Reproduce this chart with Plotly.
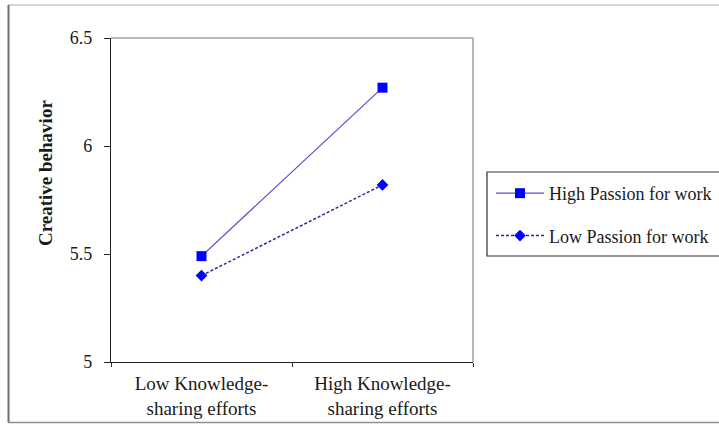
import plotly.graph_objects as go

categories = ["Low Knowledge-<br>sharing efforts", "High Knowledge-<br>sharing efforts"]
high_passion = [5.49, 6.27]
low_passion = [5.40, 5.82]
y_ticks = [5, 5.5, 6, 6.5]
y_tick_labels = ["5", "5.5", "6", "6.5"]

W, H = 719, 424
L, R, T, B = 111, 246, 38, 62
pw, ph = W - L - R, H - T - B

def px_x(x):
    return (x - L) / pw

def px_y(y):
    return (H - B - y) / ph

font_family = "Liberation Serif, Times New Roman, serif"

fig = go.Figure()
fig.add_trace(go.Scatter(
    x=categories, y=high_passion, name="High Passion for work",
    mode="lines+markers", legendgroup="a",
    line=dict(color="#5050c8", width=1.2),
    marker=dict(symbol="square", size=10, color="#0000ff"),
))
fig.add_trace(go.Scatter(
    x=categories, y=low_passion, name="Low Passion for work",
    mode="lines+markers", legendgroup="b",
    line=dict(color="#2a2a9a", width=1.5, dash="3px,2px"),
    marker=dict(symbol="diamond", size=9, color="#0000ff"),
))

shapes = [
    dict(type="line", xref="paper", yref="paper", x0=0, x1=1, y0=1, y1=1,
         line=dict(color="#a0a0a0", width=1.5)),
    dict(type="line", xref="paper", yref="paper", x0=1, x1=1, y0=0, y1=1,
         line=dict(color="#a0a0a0", width=1.5)),
    dict(type="line", xref="paper", yref="paper", x0=px_x(8), x1=px_x(730),
         y0=px_y(5), y1=px_y(5), line=dict(color="#c8c8c8", width=1.5)),
    dict(type="line", xref="paper", yref="paper", x0=px_x(8.5), x1=px_x(8.5),
         y0=px_y(5), y1=px_y(422.5), line=dict(color="#6e6e6e", width=2)),
    dict(type="line", xref="paper", yref="paper", x0=px_x(8), x1=px_x(730),
         y0=px_y(422.5), y1=px_y(422.5), line=dict(color="#909090", width=1.5)),
    dict(type="rect", xref="paper", yref="paper", x0=px_x(487), x1=px_x(740),
         y0=px_y(256), y1=px_y(172), line=dict(color="#303030", width=1.2)),
]

fig.update_layout(
    width=W, height=H,
    margin=dict(l=L, r=R, t=T, b=B, autoexpand=False),
    paper_bgcolor="white", plot_bgcolor="white",
    font=dict(family=font_family, color="#1a1a1a"),
    showlegend=True,
    legend=dict(
        x=px_x(491), y=px_y(175), xanchor="left", yanchor="top",
        font=dict(size=18, family=font_family, color="#1a1a1a"),
        bgcolor="rgba(0,0,0,0)", borderwidth=0,
        tracegroupgap=16, itemwidth=48,
    ),
    shapes=shapes,
    annotations=[dict(
        text="<b>Creative behavior</b>", textangle=-90,
        xref="paper", yref="paper", x=px_x(45), y=px_y(173),
        xanchor="center", yanchor="middle",
        showarrow=False, font=dict(size=19, family=font_family, color="#1a1a1a"),
    )],
)
fig.update_xaxes(
    type="category", range=[-0.5, 1.5], tickson="boundaries",
    ticks="outside", ticklen=4, tickcolor="#333",
    showline=True, linecolor="#222", linewidth=1.2, automargin=False,
    showgrid=False, zeroline=False, ticklabelstandoff=4,
    tickfont=dict(size=19, family=font_family, color="#1a1a1a"),
)
fig.update_yaxes(
    range=[5, 6.5], tickvals=y_ticks, ticktext=y_tick_labels,
    ticks="outside", ticklen=6, tickcolor="#222",
    showline=True, linecolor="#222", linewidth=1.2, automargin=False,
    showgrid=False, zeroline=False, ticklabelstandoff=8,
    tickfont=dict(size=18, family=font_family, color="#1a1a1a"),
)

fig.write_html("out.html", config={"displayModeBar": False},
               post_script="document.body.style.margin='0';document.body.style.overflow='hidden';")
